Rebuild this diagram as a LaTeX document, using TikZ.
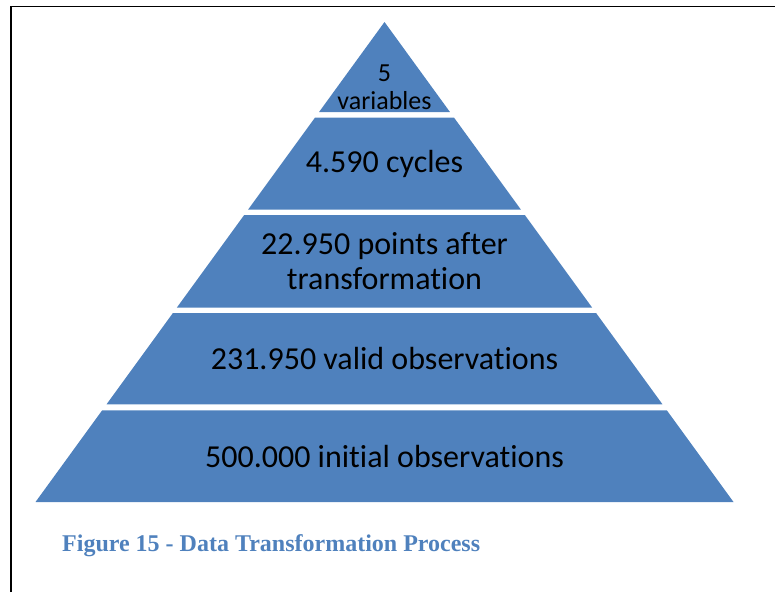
\documentclass[tikz,border=0pt]{standalone}
\usepackage{fontspec}
\setmainfont{Carlito}[Ligatures=NoCommon]
\newfontfamily\capfont{Liberation Serif}
\definecolor{tierblue}{HTML}{4F81BD}
\begin{document}
\begin{tikzpicture}[x=1pt,y=-1pt,
  tier/.style={fill=tierblue},
  tiertext/.style={align=center,text=black,inner sep=0pt,font=\fontsize{32}{35}\selectfont},
  toptext/.style={align=center,text=black,inner sep=0pt,font=\fontsize{26}{28.5}\selectfont},
  caption/.style={anchor=base west,inner sep=0pt,text=tierblue,font=\capfont\bfseries\fontsize{24}{28}\selectfont},
  frameline/.style={line width=1.6pt,black}]
\useasboundingbox (0,0) rectangle (775,592);
% outer frame: left and top rules only
\draw[frameline] (11,592) -- (11,6.5) -- (775,6.5);
% apex of the pyramid
\fill[tier] (384.5,22) -- ({384.5+0.72708*90},112) -- ({384.5-0.72708*90},112) -- cycle;
% lower tiers, sides on the same slope as the apex triangle
\foreach \t/\b in {117.5/209.7, 215/307.7, 313/404.3, 410.3/502}{
  \pgfmathsetmacro\wt{0.72708*(\t-22)}
  \pgfmathsetmacro\wb{0.72708*(\b-22)}
  \fill[tier] ({384.5-\wt},\t) -- ({384.5+\wt},\t) -- ({384.5+\wb},\b) -- ({384.5-\wb},\b) -- cycle;
}
\node[toptext] (t1) at (384.5,87.5) {5\\variables};
\node[tiertext] (t2) at (384.5,163.6) {4.590 cycles};
\node[tiertext] (t3) at (384.5,261.4) {22.950 points after\\transformation};
\node[tiertext] (t4) at (384.5,358.7) {231.950 valid observations};
\node[tiertext] (t5) at (384.5,456.2) {500.000 initial observations};
\node[caption] (cap) at (62,551) {Figure 15 - Data Transformation Process};
\end{tikzpicture}
\end{document}
